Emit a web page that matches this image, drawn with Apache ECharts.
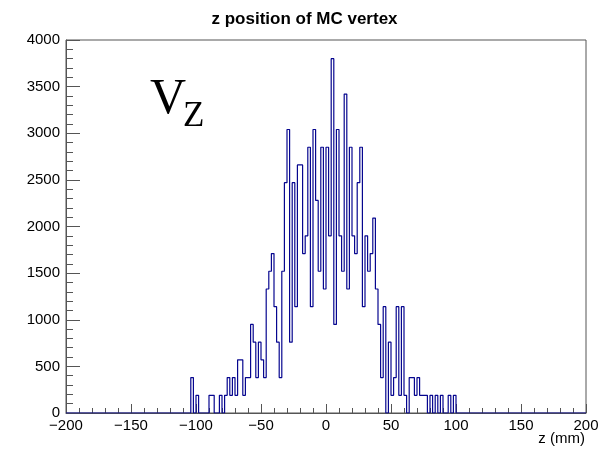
<!DOCTYPE html>
<html><head><meta charset="utf-8">
<script src="https://cdn.jsdelivr.net/npm/echarts@6/dist/echarts.min.js"></script>
<style>html,body{margin:0;padding:0;background:#fff}#c{width:609px;height:451px}</style>
</head><body><div id="c"></div>
<script>
// Histogram: 200 bins of 2 mm from -200 to 200 mm
const binLow = -200, binWidth = 2, nBins = 200;
// Non-zero bin contents: [bin index, content]
const binIndex = [48,50,55,56,59,61,62,63,64,65,66,67,68,69,70,71,72,73,74,75,76,77,78,79,80,81,82,83,84,85,86,87,88,89,90,91,92,93,94,95,96,97,98,99,100,101,102,103,104,105,106,107,108,109,110,111,112,113,114,115,116,117,118,119,120,121,122,124,125,126,127,128,129,130,132,133,134,135,136,137,138,140,142,144,147,149];
const binContent = [380,190,190,190,190,190,380,190,380,190,570,570,190,380,380,950,760,380,760,570,380,1330,1520,1710,1140,760,380,1520,2470,3040,760,2470,1140,2660,2660,1710,1900,2850,1140,3040,2280,1520,2850,1330,2850,1900,3800,950,3040,1900,1520,3420,1330,2850,1900,1710,2470,2850,1140,1900,1520,1710,2090,1330,950,380,1140,760,190,380,1140,190,1140,190,380,380,190,380,190,190,190,190,190,190,190,190];
const xTicks = [-200,-150,-100,-50,0,50,100,150,200];
const yTicks = [0,500,1000,1500,2000,2500,3000,3500,4000];
const titleText = 'z position of MC vertex';
const xTitle = 'z (mm)';

const counts = new Array(nBins).fill(0);
binIndex.forEach((b, i) => { counts[b] = binContent[i]; });
const stepData = counts.map((v, k) => [binLow + k * binWidth, v]);
stepData.push([binLow + nBins * binWidth, counts[nBins - 1]]);

const chart = echarts.init(document.getElementById('c'), null, {renderer: 'canvas'});
const lblFont = {fontFamily: 'Liberation Sans', fontSize: 15, color: '#000'};
chart.setOption({
  animation: false,
  backgroundColor: '#fff',
  title: {text: titleText, left: 'center', top: 6,
    textStyle: {fontFamily: 'Liberation Sans', fontWeight: 'bold', fontSize: 17, color: '#000'}},
  grid: {left: 66, right: 23, top: 40, bottom: 38, show: true, borderColor: '#555', borderWidth: 1, backgroundColor: 'transparent'},
  xAxis: {type: 'value', min: xTicks[0], max: xTicks[xTicks.length-1], interval: 50,
    axisLine: {show: true, onZero: false, lineStyle: {color: '#555'}},
    axisTick: {show: true, inside: true, length: 9, lineStyle: {color: '#555'}},
    minorTick: {show: true, splitNumber: 5, length: 5, lineStyle: {color: '#555'}},
    splitLine: {show: false},
    axisLabel: Object.assign({margin: 5, formatter: v => (v < 0 ? '\u2212' + Math.abs(v) : String(v))}, lblFont)},
  yAxis: {type: 'value', min: yTicks[0], max: yTicks[yTicks.length-1], interval: 500,
    axisLine: {show: true, onZero: false, lineStyle: {color: '#555'}},
    axisTick: {show: true, inside: true, length: 14, lineStyle: {color: '#555'}},
    minorTick: {show: true, splitNumber: 5, length: 7, lineStyle: {color: '#555'}},
    splitLine: {show: false},
    axisLabel: Object.assign({margin: 6, formatter: v => String(v)}, lblFont)},
  graphic: [
    {type: 'text', right: 24, top: 431, style: {text: xTitle, font: '15px "Liberation Sans"', fill: '#000'}},
    {type: 'text', left: 150, top: 75, style: {text: 'V', font: '50px "Liberation Serif"', fill: '#000'}},
    {type: 'text', left: 183, top: 99, style: {text: 'Z', font: '35px "Liberation Serif"', fill: '#000'}}
  ],
  series: [{type: 'line', step: 'end', data: stepData, symbol: 'none',
    lineStyle: {color: '#06068f', width: 1.2}, itemStyle: {color: '#06068f'}}]
});
</script></body></html>
